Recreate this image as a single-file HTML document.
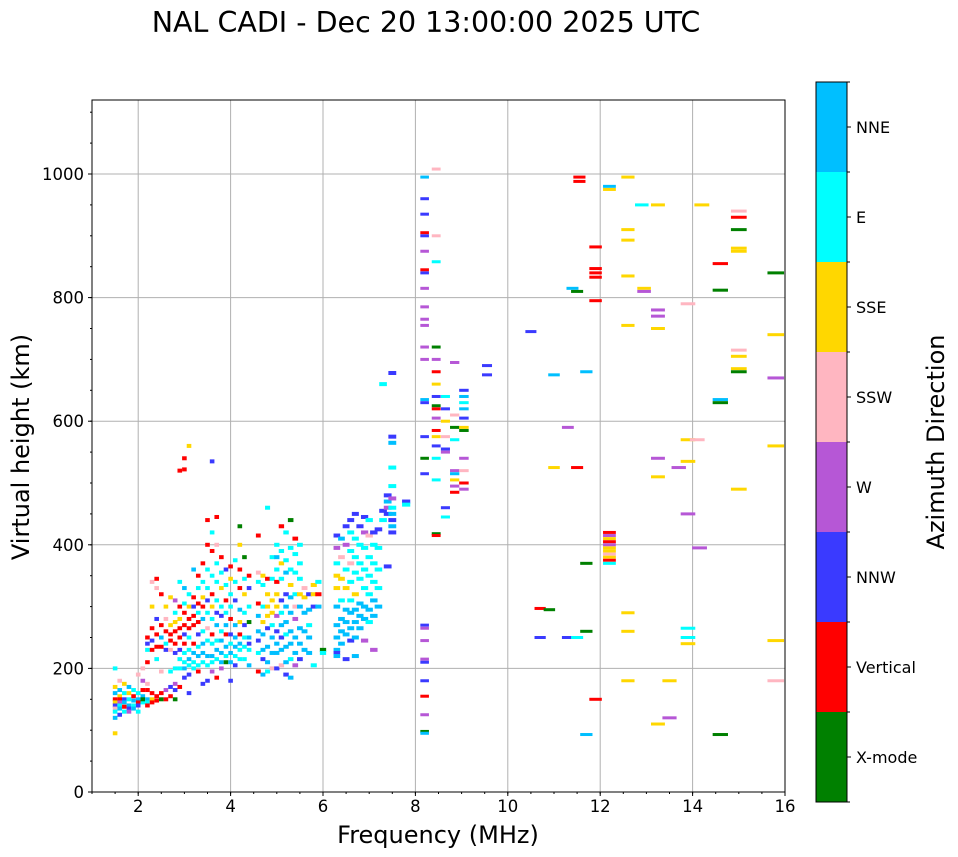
<!DOCTYPE html>
<html><head><meta charset="utf-8">
<style>
html,body{margin:0;padding:0;background:#fff;}
svg{display:block;font-family:"DejaVu Sans","Liberation Sans",sans-serif;}
</style></head>
<body>
<svg id="chart" width="958" height="857" xmlns="http://www.w3.org/2000/svg">
<text x="426" y="32" font-size="28.5" text-anchor="middle">NAL CADI - Dec 20 13:00:00 2025 UTC</text>
<g id="grid"></g>
<g id="marks"></g>
<g id="axes"></g>
<g id="cbar"></g>
<text x="438" y="843" font-size="24" text-anchor="middle">Frequency (MHz)</text>
<text transform="translate(29,447) rotate(-90)" font-size="24" text-anchor="middle">Virtual height (km)</text>
<text transform="translate(944,442) rotate(-90)" font-size="24" text-anchor="middle">Azimuth Direction</text>
</svg>
<script>
const directions=["X-mode","Vertical","NNW","W","SSW","SSE","E","NNE"];
const dirColors=["#008000","#ff0000","#3a3aff","#b657d6","#ffb6c1","#ffd700","#00ffff","#00bfff"];
const xTicks=[2,4,6,8,10,12,14,16];
const yTicks=[0,200,400,600,800,1000];
// [frequency MHz, virtual height km, direction index]
const echoes=[
[1.5,200,6],[1.5,170,5],[1.5,160,7],[1.5,150,1],[1.5,145,5],[1.5,140,2],[1.5,135,4],[1.5,130,6],[1.5,120,7],[1.5,95,5],
[1.6,180,4],[1.6,165,7],[1.6,155,5],[1.6,150,1],[1.6,145,3],[1.6,140,6],[1.6,135,7],[1.6,125,2],
[1.7,175,5],[1.7,160,6],[1.7,150,2],[1.7,145,7],[1.7,138,1],[1.7,130,6],
[1.8,170,7],[1.8,160,5],[1.8,150,6],[1.8,140,7],[1.8,135,2],[1.8,130,3],
[1.9,165,6],[1.9,155,1],[1.9,148,7],[1.9,140,6],[1.9,135,7],
[2.0,190,4],[2.0,160,6],[2.0,150,7],[2.0,145,1],[2.0,140,2],[2.0,130,6],
[2.1,200,4],[2.1,165,1],[2.1,155,7],[2.1,145,6],[2.1,150,0],[2.1,180,3],
[2.2,250,1],[2.2,240,2],[2.2,230,6],[2.2,210,1],[2.2,175,4],[2.2,165,1],[2.2,150,7],[2.2,145,6],[2.2,140,1],
[2.3,340,4],[2.3,300,5],[2.3,265,1],[2.3,245,2],[2.3,230,1],[2.3,160,1],[2.3,150,5],[2.3,145,1],
[2.4,345,1],[2.4,330,4],[2.4,280,2],[2.4,255,1],[2.4,235,1],[2.4,215,6],[2.4,155,1],[2.4,148,1],
[2.5,320,1],[2.5,270,1],[2.5,250,7],[2.5,235,1],[2.5,195,4],[2.5,160,1],[2.5,150,0],
[2.6,300,5],[2.6,280,4],[2.6,260,1],[2.6,240,6],[2.6,230,2],[2.6,165,3],[2.6,150,1],
[2.7,315,5],[2.7,270,5],[2.7,255,1],[2.7,245,1],[2.7,230,4],[2.7,195,6],[2.7,170,2],[2.7,155,1],
[2.8,310,3],[2.8,290,6],[2.8,275,5],[2.8,260,1],[2.8,240,1],[2.8,225,2],[2.8,200,6],[2.8,175,3],[2.8,165,2],[2.8,150,0],
[2.9,340,6],[2.9,300,1],[2.9,280,5],[2.9,265,1],[2.9,250,1],[2.9,230,2],[2.9,215,6],[2.9,200,6],[2.9,170,1],[2.9,520,1],
[3.0,330,7],[3.0,305,6],[3.0,290,1],[3.0,270,1],[3.0,255,2],[3.0,240,1],[3.0,225,6],[3.0,210,6],[3.0,200,7],[3.0,185,2],[3.0,522,1],[3.0,540,1],[3.1,560,5],
[3.1,320,6],[3.1,300,5],[3.1,280,1],[3.1,265,1],[3.1,250,6],[3.1,230,6],[3.1,215,7],[3.1,205,6],[3.1,190,2],[3.1,160,2],
[3.2,360,7],[3.2,315,1],[3.2,300,2],[3.2,285,1],[3.2,270,1],[3.2,240,1],[3.2,225,7],[3.2,210,6],[3.2,200,6],
[3.3,350,1],[3.3,330,6],[3.3,305,1],[3.3,290,6],[3.3,275,1],[3.3,255,2],[3.3,235,6],[3.3,220,7],[3.3,205,6],[3.3,195,1],
[3.4,370,1],[3.4,340,6],[3.4,315,5],[3.4,300,1],[3.4,280,7],[3.4,260,6],[3.4,240,7],[3.4,225,7],[3.4,210,6],[3.4,175,2],[3.6,535,2],
[3.5,440,1],[3.5,400,1],[3.5,360,6],[3.5,330,6],[3.5,310,2],[3.5,290,6],[3.5,265,4],[3.5,245,6],[3.5,220,7],[3.5,205,6],[3.5,180,2],
[3.6,420,6],[3.6,390,1],[3.6,350,6],[3.6,320,1],[3.6,300,5],[3.6,280,6],[3.6,255,1],[3.6,240,6],[3.6,220,7],[3.6,210,6],[3.6,195,3],
[3.7,445,1],[3.7,400,4],[3.7,370,6],[3.7,340,6],[3.7,310,6],[3.7,290,2],[3.7,270,7],[3.7,245,6],[3.7,230,7],[3.7,215,6],[3.7,185,1],
[3.8,380,1],[3.8,355,6],[3.8,330,5],[3.8,300,6],[3.8,285,2],[3.8,260,6],[3.8,245,7],[3.8,225,7],[3.8,210,7],[3.8,200,3],
[3.9,360,2],[3.9,335,6],[3.9,310,1],[3.9,290,6],[3.9,270,7],[3.9,255,1],[3.9,235,7],[3.9,220,6],[3.9,210,0],
[4.0,365,1],[4.0,345,5],[4.0,320,6],[4.0,300,6],[4.0,280,1],[4.0,255,2],[4.0,240,6],[4.0,225,7],[4.0,210,7],[4.0,180,2],
[4.2,430,0],[4.1,375,6],[4.1,340,6],[4.1,310,2],[4.1,270,7],[4.1,250,7],[4.1,235,7],[4.1,220,6],[4.1,205,2],
[4.2,400,5],[4.2,360,1],[4.2,330,1],[4.2,295,7],[4.2,275,5],[4.2,255,1],[4.2,240,7],[4.2,230,6],[4.2,215,6],
[4.3,380,0],[4.3,345,6],[4.3,320,5],[4.3,290,6],[4.3,270,2],[4.3,250,6],[4.3,235,6],[4.3,215,6],
[4.4,350,1],[4.4,330,2],[4.4,300,6],[4.4,275,0],[4.4,250,7],[4.4,240,2],[4.4,230,6],[4.4,205,7],
[4.6,415,1],[4.6,355,4],[4.6,340,6],[4.6,305,1],[4.6,285,7],[4.6,260,7],[4.6,245,2],[4.6,225,6],[4.6,195,1],
[4.7,350,5],[4.7,335,6],[4.7,300,6],[4.7,275,5],[4.7,255,7],[4.7,230,7],[4.7,215,2],[4.7,190,7],
[4.8,460,6],[4.8,345,1],[4.8,320,5],[4.8,300,5],[4.8,285,5],[4.8,265,2],[4.8,235,7],[4.8,210,7],[4.8,195,6],
[4.9,380,6],[4.9,345,6],[4.9,310,5],[4.9,290,5],[4.9,270,6],[4.9,250,7],[4.9,225,7],[4.9,200,4],
[5.0,400,6],[5.0,380,7],[5.0,360,6],[5.0,340,1],[5.0,320,5],[5.0,300,5],[5.0,285,3],[5.0,260,2],[5.0,240,7],[5.0,225,7],[5.0,200,2],
[5.1,430,1],[5.1,390,6],[5.1,370,5],[5.1,345,6],[5.1,310,2],[5.1,290,6],[5.1,270,7],[5.1,250,2],[5.1,230,7],[5.1,205,4],
[5.2,420,6],[5.2,375,6],[5.2,355,7],[5.2,320,2],[5.2,300,7],[5.2,275,7],[5.2,255,6],[5.2,235,7],[5.2,210,7],[5.2,190,2],
[5.3,440,0],[5.3,395,6],[5.3,360,6],[5.3,335,5],[5.3,315,7],[5.3,290,7],[5.3,260,7],[5.3,240,7],[5.3,215,6],[5.3,185,7],
[5.4,410,1],[5.4,385,6],[5.4,355,6],[5.4,320,6],[5.4,300,4],[5.4,280,3],[5.4,250,7],[5.4,225,7],[5.4,205,3],
[5.5,400,6],[5.5,370,6],[5.5,345,6],[5.5,320,5],[5.5,300,7],[5.5,265,7],[5.5,240,7],[5.5,215,2],
[5.6,330,4],[5.6,315,5],[5.6,290,7],[5.6,260,7],[5.6,230,7],
[5.7,320,2],[5.7,295,7],[5.7,270,6],[5.7,250,7],[5.7,225,7],
[5.8,335,5],[5.8,320,5],[5.8,300,2],[5.8,205,6],
[5.9,340,6],[5.9,320,1],[5.9,300,7],[6.0,230,0],[6.0,225,6],
[6.3,415,2],[6.3,395,3],[6.3,370,6],[6.3,350,5],[6.3,330,5],[6.3,300,7],[6.3,270,7],[6.3,250,7],[6.3,230,7],[6.3,225,2],[6.3,220,7],
[6.4,410,7],[6.4,380,4],[6.4,345,5],[6.4,310,6],[6.4,280,7],[6.4,260,7],[6.4,240,7],
[6.5,430,2],[6.5,400,3],[6.5,360,6],[6.5,330,5],[6.5,295,7],[6.5,275,7],[6.5,255,7],[6.5,215,2],
[6.6,440,2],[6.6,420,6],[6.6,390,6],[6.6,370,4],[6.6,340,6],[6.6,310,6],[6.6,290,7],[6.6,265,7],[6.6,245,2],
[6.7,450,2],[6.7,410,6],[6.7,380,6],[6.7,355,6],[6.7,320,5],[6.7,295,7],[6.7,275,7],[6.7,250,7],[6.7,220,7],
[6.8,430,2],[6.8,400,6],[6.8,370,6],[6.8,345,6],[6.8,305,7],[6.8,285,7],[6.8,265,7],
[6.9,445,2],[6.9,420,3],[6.9,395,6],[6.9,360,6],[6.9,330,6],[6.9,300,7],[6.9,280,7],[6.9,245,3],
[7.0,440,6],[7.0,415,4],[7.0,380,6],[7.0,350,6],[7.0,320,6],[7.0,295,7],[7.0,275,6],
[7.1,420,2],[7.1,400,6],[7.1,370,6],[7.1,340,6],[7.1,310,7],[7.1,285,7],[7.1,230,3],
[7.2,425,2],[7.2,395,6],[7.2,360,6],[7.2,330,6],[7.2,300,7],
[7.3,455,2],[7.3,440,6],[7.4,365,2],[7.3,660,6],
[7.4,480,2],[7.4,470,7],[7.4,460,3],[7.4,450,2],
[7.5,575,2],[7.5,565,7],[7.5,525,6],[7.5,495,6],[7.5,475,3],[7.5,460,6],[7.5,450,7],[7.5,440,2],[7.5,430,7],[7.5,420,2],[7.5,678,2],
[7.8,470,2],[7.8,465,6],
[8.2,995,7],[8.2,960,2],[8.2,935,2],[8.2,905,1],[8.2,900,2],[8.2,875,3],[8.2,845,1],[8.2,840,2],[8.2,815,3],[8.2,785,3],[8.2,765,3],[8.2,755,3],[8.2,720,3],[8.2,700,3],[8.2,635,7],[8.2,630,2],[8.2,575,2],[8.2,540,0],[8.2,515,2],[8.2,270,2],[8.2,265,3],[8.2,245,3],[8.2,215,3],[8.2,210,2],[8.2,180,2],[8.2,155,1],[8.2,125,3],[8.2,98,0],[8.2,95,7],
[8.45,1008,4],[8.45,900,4],[8.45,858,6],[8.45,720,0],[8.45,700,3],[8.45,680,1],[8.45,660,5],[8.45,640,2],[8.45,625,0],[8.45,620,1],[8.45,605,3],[8.45,585,1],[8.45,575,5],[8.45,560,2],[8.45,540,6],[8.45,505,6],[8.45,418,0],[8.45,415,1],
[8.65,640,6],[8.65,620,2],[8.65,600,5],[8.65,575,4],[8.65,555,2],[8.65,550,3],[8.65,460,2],[8.65,445,6],
[8.85,695,3],[8.85,610,4],[8.85,590,0],[8.85,570,6],[8.85,520,3],[8.85,515,7],[8.85,505,5],[8.85,495,3],[8.85,485,1],
[9.05,650,2],[9.05,640,7],[9.05,630,6],[9.05,620,7],[9.05,605,2],[9.05,590,5],[9.05,585,0],[9.05,540,3],[9.05,520,4],[9.05,500,1],[9.05,490,3],
[9.55,690,2],[9.55,675,2],
[10.5,745,2],[11.0,675,7],[11.0,525,5],[11.3,590,3],[11.5,525,1],[11.55,995,1],[11.55,988,1],[11.4,815,7],[11.5,810,0],[11.7,680,7],[11.7,370,0],[11.7,260,0],[11.7,93,7],
[11.9,882,1],[11.9,847,1],[11.9,840,1],[11.9,833,1],[11.9,795,1],[11.9,150,1],
[12.2,980,7],[12.2,975,5],[12.2,420,1],[12.2,415,3],[12.2,410,5],[12.2,405,1],[12.2,400,3],[12.2,395,5],[12.2,390,5],[12.2,385,4],[12.2,380,5],[12.2,375,1],[12.2,370,6],
[12.6,995,5],[12.6,910,5],[12.6,893,5],[12.6,835,5],[12.6,755,5],[12.6,290,5],[12.6,260,5],[12.6,180,5],
[12.9,950,6],[13.25,950,5],[12.95,815,5],[12.95,810,3],[13.25,780,3],[13.25,770,3],[13.25,750,5],[13.25,540,3],[13.25,510,5],[13.25,110,5],[13.5,180,5],[13.5,120,3],
[13.9,790,4],[13.9,570,5],[13.9,535,5],[13.7,525,3],[13.9,450,3],[13.9,265,6],[13.9,250,6],[13.9,240,5],[14.1,570,4],[14.15,395,3],[14.2,950,5],
[14.6,855,1],[14.6,812,0],[14.6,635,7],[14.6,630,0],[14.6,93,0],
[15.0,940,4],[15.0,930,1],[15.0,910,0],[15.0,880,5],[15.0,875,5],[15.0,715,4],[15.0,705,5],[15.0,685,5],[15.0,680,0],[15.0,490,5],
[15.8,840,0],[15.8,740,5],[15.8,670,3],[15.8,560,5],[15.8,245,5],[15.8,180,4],
[10.7,297,1],[10.9,295,0],[10.7,250,2],[11.3,250,2],[11.5,250,6]
];
const NS="http://www.w3.org/2000/svg";
const X0=92,X1=785,Y0=792,Y1=100,FMIN=1,FMAX=16,HMAX=(792-100)/0.618;
function xs(f){return X0+(f-FMIN)/(FMAX-FMIN)*(X1-X0);}
function ys(h){return Y0-h/HMAX*(Y0-Y1);}
function mk(tag,attrs,parent){const e=document.createElementNS(NS,tag);for(const k in attrs)e.setAttribute(k,attrs[k]);parent.appendChild(e);return e;}
const grid=document.getElementById('grid'),marks=document.getElementById('marks'),axes=document.getElementById('axes'),cbar=document.getElementById('cbar');
xTicks.forEach(t=>{if(t<FMAX){const l=mk('line',{x1:xs(t),x2:xs(t),y1:Y1,y2:Y0,stroke:'#b0b0b0','stroke-width':1},grid);

}});
yTicks.forEach(t=>{if(t>0){const l=mk('line',{x1:X0,x2:X1,y1:ys(t),y2:ys(t),stroke:'#b0b0b0','stroke-width':1},grid);

}});
echoes.forEach(p=>{const w=Math.max(4.6,p[0]*1.05);const hh=p[0]<8?4:3;const r=mk('rect',{x:xs(p[0])-w/2,y:ys(p[1])-hh/2,width:w,height:hh,fill:dirColors[p[2]]},marks);

});
const fr=mk('rect',{x:X0,y:Y1,width:X1-X0,height:Y0-Y1,fill:'none',stroke:'#000','stroke-width':1},axes);


for(let f=1;f<=16;f+=0.5){mk('line',{x1:xs(f),x2:xs(f),y1:Y0,y2:Y0+2,stroke:'#000'},axes);}
for(let h=0;h<=1100;h+=50){mk('line',{x1:X0,x2:X0-2,y1:ys(h),y2:ys(h),stroke:'#000'},axes);}
xTicks.forEach(t=>{mk('line',{x1:xs(t),x2:xs(t),y1:Y0,y2:Y0+4,stroke:'#000'},axes);
const tx=mk('text',{x:xs(t),y:Y0+20,'font-size':16.5,'text-anchor':'middle'},axes);tx.textContent=t;

});
yTicks.forEach(t=>{mk('line',{x1:X0,x2:X0-4,y1:ys(t),y2:ys(t),stroke:'#000'},axes);
const tx=mk('text',{x:X0-8,y:ys(t)+6,'font-size':16.5,'text-anchor':'end'},axes);tx.textContent=t;

});
const CB_T=82,CB_B=802,CB_X=816,CB_W=31,seg=(CB_B-CB_T)/directions.length;
directions.forEach((d,i)=>{const yT=CB_B-(i+1)*seg;
const r=mk('rect',{x:CB_X,y:yT,width:CB_W,height:seg,fill:dirColors[i]},cbar);


mk('line',{x1:CB_X+CB_W,x2:CB_X+CB_W+4,y1:yT+seg/2,y2:yT+seg/2,stroke:'#000'},cbar);
const tx=mk('text',{x:CB_X+CB_W+9,y:yT+seg/2+6,'font-size':16},cbar);tx.textContent=d;

});
for(let i=0;i<=directions.length;i++){mk('line',{x1:CB_X+CB_W,x2:CB_X+CB_W+3,y1:CB_T+i*seg,y2:CB_T+i*seg,stroke:'#000'},cbar);}
mk('rect',{x:CB_X,y:CB_T,width:CB_W,height:CB_B-CB_T,fill:'none',stroke:'#000'},cbar);
</script>
</body></html>
